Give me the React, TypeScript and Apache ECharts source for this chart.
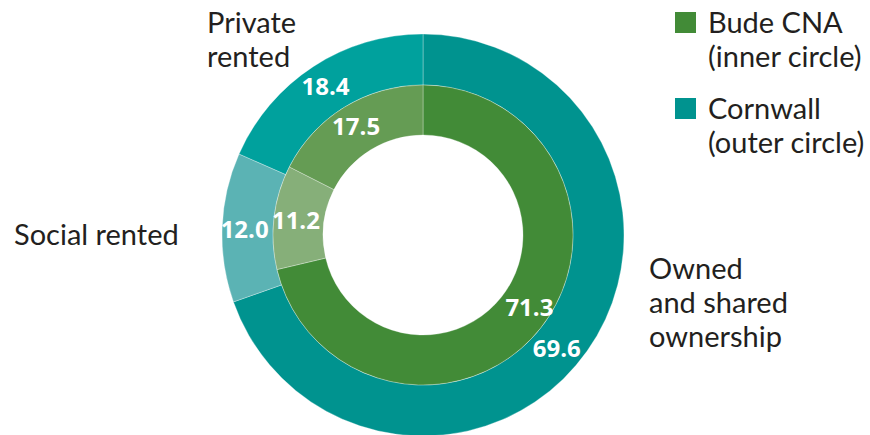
import React, { useEffect, useRef } from "react";
import * as echarts from "echarts";

const categories = ["Owned and shared ownership", "Social rented", "Private rented"];
const categoryLines = [["Owned", "and shared", "ownership"], ["Social rented"], ["Private", "rented"]];
const budeValues = [71.3, 11.2, 17.5];
const cornwallValues = [69.6, 12.0, 18.4];
const seriesNames = ["Bude CNA", "Cornwall"];
const seriesNotes = ["(inner circle)", "(outer circle)"];
const innerColors = ["#428B37", "#86AF79", "#659C54"];
const outerColors = ["#00938F", "#5BB3B4", "#00A19D"];

const FONT = "'Open Sans', 'Noto Sans', sans-serif";
const LFONT = "Lato, 'Open Sans', sans-serif";
const TEXT = "#231F20";

export default function App() {
  const ref = useRef<HTMLDivElement>(null);
  useEffect(() => {
    if (!ref.current) return;
    const chart = echarts.init(ref.current, null, { renderer: "svg" });
    const innerOffsets = [[6, -8], [0, 0], [0, 0]];
    const outerOffsets = [[-12, 9], [0, 0], [0, 0]];
    const mkData = (vals: number[], cols: string[], offs: number[][]) =>
      vals.map((v, i) => ({
        name: categories[i],
        value: v,
        itemStyle: { color: cols[i] },
        label: { offset: offs[i] },
      }));
    const label = {
      show: true,
      position: "inside",
      color: "#fff",
      fontFamily: FONT,
      fontWeight: "bold",
      fontSize: 24,
      formatter: (p: any) => p.value.toFixed(1),
    };
    const catPos = [
      { x: 649, y: 253 },
      { x: 14, y: 219 },
      { x: 207, y: 7 },
    ];
    const graphics: any[] = [];
    categoryLines.forEach((lines, i) => {
      lines.forEach((ln, k) => {
        graphics.push({
          type: "text",
          left: catPos[i].x,
          top: catPos[i].y + k * 34,
          style: { text: ln, font: `29px ${LFONT}`, fill: TEXT },
        });
      });
    });
    const legendCols = [innerColors[0], outerColors[0]];
    seriesNames.forEach((n, i) => {
      const y0 = 12 + i * 86;
      graphics.push({
        type: "rect",
        shape: { x: 675, y: y0, width: 21, height: 21 },
        style: { fill: legendCols[i] },
      });
      [n, seriesNotes[i]].forEach((ln, k) => {
        graphics.push({
          type: "text",
          left: 708,
          top: y0 - 5 + k * 34,
          style: { text: ln, font: `29px ${LFONT}`, fill: TEXT },
        });
      });
    });
    chart.setOption({
      animation: false,
      graphic: graphics,
      series: [
        {
          name: seriesNames[1],
          type: "pie",
          center: [423, 235],
          radius: [150, 201],
          startAngle: 90,
          clockwise: true,
          avoidLabelOverlap: false,
          label,
          labelLayout: { hideOverlap: false },
          labelLine: { show: false },
          itemStyle: { borderColor: "rgba(255,255,255,0.5)", borderWidth: 0.6 },
          emphasis: { disabled: true },
          data: mkData(cornwallValues, outerColors, outerOffsets),
        },
        {
          name: seriesNames[0],
          type: "pie",
          center: [423, 235],
          radius: [100, 150],
          startAngle: 90,
          clockwise: true,
          avoidLabelOverlap: false,
          label,
          labelLayout: { hideOverlap: false },
          labelLine: { show: false },
          itemStyle: { borderColor: "rgba(255,255,255,0.5)", borderWidth: 0.6 },
          emphasis: { disabled: true },
          data: mkData(budeValues, innerColors, innerOffsets),
        },
      ],
    });
    return () => chart.dispose();
  }, []);
  return (
    <div
      ref={ref}
      style={{ position: "fixed", left: 0, top: 0, width: 870, height: 435, background: "#fff" }}
    />
  );
}
